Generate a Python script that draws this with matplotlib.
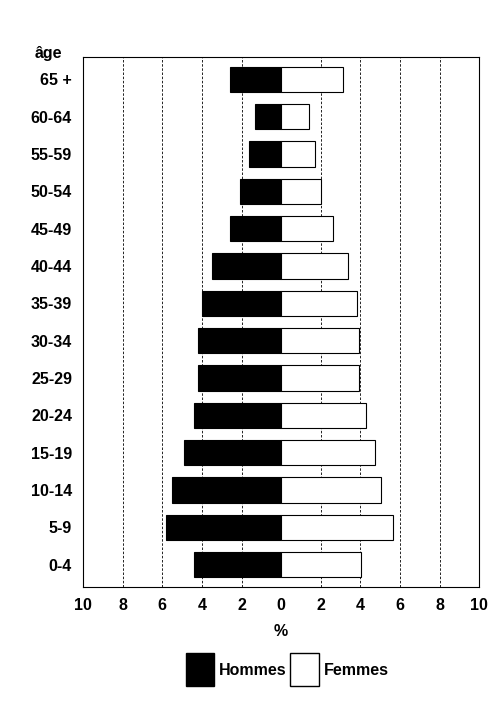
import numpy as np
import matplotlib.pyplot as plt
from matplotlib.patches import Patch

plt.rcParams['font.family'] = ['Liberation Sans', 'DejaVu Sans']
plt.rcParams['font.weight'] = 'bold'

ages = ["0-4", "5-9", "10-14", "15-19", "20-24", "25-29", "30-34",
        "35-39", "40-44", "45-49", "50-54", "55-59", "60-64", "65 +"]
hommes = [4.4, 5.8, 5.5, 4.9, 4.4, 4.2, 4.2, 4.0, 3.5, 2.6, 2.1, 1.6, 1.3, 2.6]
femmes = [4.05, 5.65, 5.05, 4.75, 4.3, 3.95, 3.95, 3.85, 3.4, 2.6, 2.0, 1.7, 1.4, 3.1]
ticks = [-10, -8, -6, -4, -2, 0, 2, 4, 6, 8, 10]

fig = plt.figure(figsize=(4.95, 7.03), dpi=100)
ax = fig.add_axes([0.168, 0.165, 0.8, 0.754])

y = np.arange(len(ages))
ax.barh(y, [-h for h in hommes], height=0.68, color='black', edgecolor='black', linewidth=0.8)
ax.barh(y, femmes, height=0.68, color='white', edgecolor='black', linewidth=0.8)

for t in ticks[1:-1]:
    if t != 0:
        ax.axvline(t, color='black', linestyle=(0, (3, 2)), linewidth=0.6, zorder=0)

ax.set_xlim(-10, 10)
ax.set_ylim(-0.6, len(ages) - 0.4)
ax.set_xticks(ticks)
ax.set_xticklabels([str(abs(t)) for t in ticks], fontsize=11.5, fontweight='bold')
ax.set_yticks(y)
ax.set_yticklabels(ages, fontsize=11.5, fontweight='bold')
ax.tick_params(length=0, pad=8)
ax.set_xlabel('%', fontsize=11.5, fontweight='bold', labelpad=8)
fig.text(0.097, 0.918, 'âge', fontsize=11.5, fontweight='bold', ha='center')

handles = [Patch(facecolor='black', edgecolor='black', label='Hommes'),
           Patch(facecolor='white', edgecolor='black', label='Femmes')]
fig.legend(handles=handles, loc='center', bbox_to_anchor=(0.58, 0.047), ncol=2,
           frameon=False, fontsize=11.5, handlelength=1.8, handleheight=2.8,
           handletextpad=0.3, columnspacing=0.2)

fig.savefig('out.png', dpi=100)
